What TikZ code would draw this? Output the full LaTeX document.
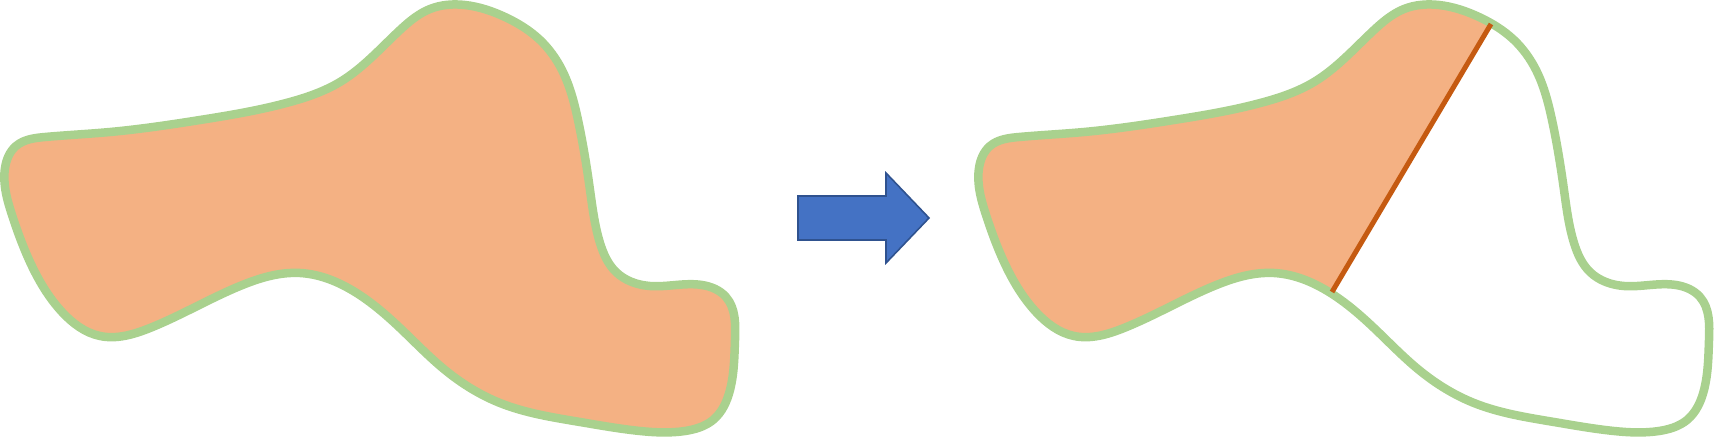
\documentclass[tikz,border=0pt]{standalone}
\usetikzlibrary{hobby}
\definecolor{blobfill}{HTML}{F4B183}
\definecolor{blobline}{HTML}{A9D18E}
\definecolor{cutline}{HTML}{C55A11}
\definecolor{arrowfill}{HTML}{4472C4}
\definecolor{arrowline}{HTML}{2F528F}
\begin{document}
\begin{tikzpicture}[x=1pt,y=-1pt,
  blobedge/.style={draw=blobline,line width=8.5pt,line join=round},
  cutstyle/.style={draw=cutline,line width=5pt},
  bigarrow/.style={fill=arrowfill,draw=arrowline,line width=1.6pt}]
\useasboundingbox (0,0) rectangle (1719,438);
\def\blob{plot[closed hobby] coordinates {
 (5,168) (16,146) (45,137) (110,132) (200,120) (290,102)
 (340,82) (400,30) (430,9) (465,5) (505,17) (540,40) (562,70)
 (578,120) (590,190) (600,243) (616,272) (650,286) (702,285)
 (726,297) (735,340) (730,390) (713,420) (685,431) (640,431) (580,422)
 (500,403) (445,370) (400,328) (355,292) (300,273) (240,286)
 (150,328) (100,336) (62,312) (30,262) (12,215)}}
% left blob
\fill[blobfill] \blob;
\draw[blobedge] \blob;
% arrow
\draw[bigarrow] (798,196) -- (886,196) -- (886,173) -- (929,218) -- (886,263) -- (886,240) -- (798,240) -- cycle;
% right blob
\begin{scope}[xshift=974pt]
\begin{scope}
\clip (-30,-20) -- (543,-20) -- (258,460) -- (-30,460) -- cycle;
\fill[blobfill] \blob;
\end{scope}
\draw[blobedge] \blob;
\coordinate (cuttop) at (517,24);
\coordinate (cutbot) at (358,292);
\draw[cutstyle] (cutbot) -- (cuttop);
\end{scope}
\end{tikzpicture}
\end{document}
